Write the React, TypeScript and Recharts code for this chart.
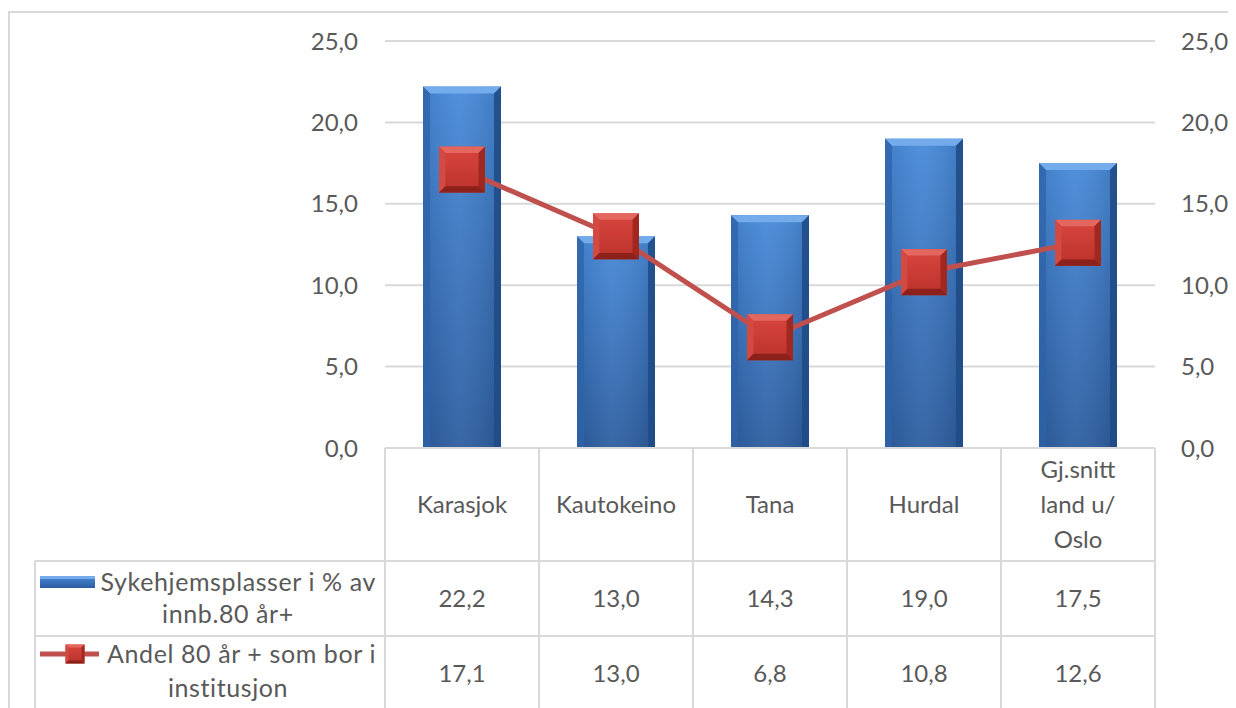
import { ComposedChart, Bar, Line, XAxis, YAxis, CartesianGrid } from "recharts";

const categories = ["Karasjok", "Kautokeino", "Tana", "Hurdal", "Gj.snitt land u/ Oslo"];
const sykehjemsplasser = [22.2, 13.0, 14.3, 19.0, 17.5];
const andelInstitusjon = [17.1, 13.0, 6.8, 10.8, 12.6];
const yTicks = [0, 5, 10, 15, 20, 25];
const barName = "Sykehjemsplasser i % av innb.80 år+";
const lineName = "Andel 80 år + som bor i institusjon";

const data = categories.map((name, i) => ({
  name,
  bar: sykehjemsplasser[i],
  line: andelInstitusjon[i],
}));

const FONT = "Lato, 'DejaVu Sans', sans-serif";
const TEXT = "#595959";
const GRID = "#d9d9d9";
const FS = 24;
const W = 1228;
const H = 700;
const HEADER_H = 113;
const ROW_H = 75;
const LEGEND_LEFT = 27;

const fmt = (v: number) => v.toFixed(1).replace(".", ",");

// simple word wrap by character count
function wrap(text: string, max: number) {
  const out: string[] = [];
  let cur = "";
  for (const w of text.split(" ")) {
    if (cur && (cur + " " + w).length > max) {
      out.push(cur);
      cur = w;
    } else cur = cur ? cur + " " + w : w;
  }
  if (cur) out.push(cur);
  return out;
}

function BevelBar(props: any) {
  const { x, y, width: w, height: h } = props;
  if (!h || h <= 0) return null;
  const b = 7;
  return (
    <g>
      <rect x={x} y={y} width={w} height={h} fill="url(#barFill)" />
      <rect x={x} y={y} width={w} height={h} fill="url(#barSide)" />
      <polygon points={`${x},${y} ${x + w},${y} ${x + w - b},${y + b} ${x + b},${y + b}`} fill="#74abeb" />
      <polygon points={`${x},${y} ${x + b},${y + b} ${x + b},${y + h} ${x},${y + h}`} fill="#2f63a8" opacity={0.75} />
      <polygon points={`${x + w},${y} ${x + w - b},${y + b} ${x + w - b},${y + h} ${x + w},${y + h}`} fill="#1f4a85" opacity={0.85} />
    </g>
  );
}

function Square({ cx, cy, s }: { cx: number; cy: number; s: number }) {
  const b = Math.max(3, s * 0.14);
  const x = cx - s / 2;
  const y = cy - s / 2;
  return (
    <g>
      <rect x={x} y={y} width={s} height={s} fill="url(#markFill)" />
      <polygon points={`${x},${y} ${x + s},${y} ${x + s - b},${y + b} ${x + b},${y + b}`} fill="#e4675f" />
      <polygon points={`${x},${y} ${x + b},${y + b} ${x + b},${y + s - b} ${x},${y + s}`} fill="#d24a42" />
      <polygon points={`${x + s},${y} ${x + s - b},${y + b} ${x + s - b},${y + s - b} ${x + s},${y + s}`} fill="#a0281f" />
      <polygon points={`${x},${y + s} ${x + b},${y + s - b} ${x + s - b},${y + s - b} ${x + s},${y + s}`} fill="#8c211b" />
    </g>
  );
}

function SquareDot(props: any) {
  const { cx, cy } = props;
  if (cx == null || cy == null) return null;
  return <Square cx={cx} cy={cy} s={46} />;
}

function TableTick(props: any) {
  const { x, y, payload, index, width, visibleTicksCount } = props;
  const band = width && visibleTicksCount ? width / visibleTicksCount : 154;
  const left = x - band / 2;
  const right = x + band / 2;
  const r1 = y + HEADER_H;
  const r2 = r1 + ROW_H;
  const bottom = y + 300;
  const lines = wrap(String(payload.value), 9);
  const lh = 35;
  const headMid = y + HEADER_H / 2;
  const txt = { fill: TEXT, fontSize: FS, fontFamily: FONT, textAnchor: "middle" as const };
  const legTxt = { fill: TEXT, fontSize: 25, fontFamily: FONT, letterSpacing: 0.6 };
  return (
    <g>
      <line x1={left} x2={left} y1={y} y2={bottom} stroke={GRID} strokeWidth={2} />
      <line x1={right} x2={right} y1={y} y2={bottom} stroke={GRID} strokeWidth={2} />
      <line x1={left} x2={right} y1={r1} y2={r1} stroke={GRID} strokeWidth={2} />
      <line x1={left} x2={right} y1={r2} y2={r2} stroke={GRID} strokeWidth={2} />
      {lines.map((l, i) => (
        <text key={i} x={x} y={headMid + (i - (lines.length - 1) / 2) * lh} dy="0.35em" {...txt}>
          {l}
        </text>
      ))}
      <text x={x} y={r1 + ROW_H / 2} dy="0.35em" {...txt}>
        {fmt(sykehjemsplasser[index])}
      </text>
      <text x={x} y={r2 + ROW_H / 2} dy="0.35em" {...txt}>
        {fmt(andelInstitusjon[index])}
      </text>
      {index === 0 && (
        <g>
          <line x1={LEGEND_LEFT} x2={left} y1={r1} y2={r1} stroke={GRID} strokeWidth={2} />
          <line x1={LEGEND_LEFT} x2={left} y1={r2} y2={r2} stroke={GRID} strokeWidth={2} />
          <line x1={LEGEND_LEFT} x2={LEGEND_LEFT} y1={r1} y2={bottom} stroke={GRID} strokeWidth={2} />
          {wrap(barName, 23).map((l, i) => (
            <text
              key={i}
              x={i === 0 ? left - 9 : (LEGEND_LEFT + left) / 2 + 18}
              y={r1 + 21 + i * 32}
              dy="0.35em"
              {...legTxt}
              textAnchor={i === 0 ? "end" : "middle"}
            >
              {l}
            </text>
          ))}
          <rect x={LEGEND_LEFT + 5} y={r1 + 15} width={55} height={12} fill="url(#barFill)" />
          <rect x={LEGEND_LEFT + 5} y={r1 + 15} width={55} height={3} fill="#74abeb" />
          {wrap(lineName, 23).map((l, i) => (
            <text
              key={i}
              x={i === 0 ? left - 9 : (LEGEND_LEFT + left) / 2 + 18}
              y={r2 + 18 + i * 34}
              dy="0.35em"
              {...legTxt}
              textAnchor={i === 0 ? "end" : "middle"}
            >
              {l}
            </text>
          ))}
          <line x1={LEGEND_LEFT + 5} x2={LEGEND_LEFT + 64} y1={r2 + 18} y2={r2 + 18} stroke="#c0504d" strokeWidth={5} />
          <Square cx={LEGEND_LEFT + 40} cy={r2 + 18} s={19} />
        </g>
      )}
    </g>
  );
}

export default function App() {
  return (
    <div style={{ position: "relative", width: W, height: H, overflow: "hidden", fontFamily: FONT }}>
      <style>{"html,body{overflow:hidden}"}</style>
      <div
        style={{
          position: "absolute",
          left: 0,
          top: 3,
          width: 1222,
          height: 800,
          border: `2px solid ${GRID}`,
        }}
      />
      <div style={{ position: "absolute", left: 0, top: 0 }}>
        <ComposedChart width={W} height={H} data={data} margin={{ top: 33, right: 21, bottom: 0, left: 317 }}>
          <defs>
            <linearGradient id="barFill" x1="0" y1="0" x2="0" y2="1">
              <stop offset="0%" stopColor="#4689d9" />
              <stop offset="100%" stopColor="#2c5da0" />
            </linearGradient>
            <linearGradient id="barSide" x1="0" y1="0" x2="1" y2="0">
              <stop offset="0%" stopColor="#000" stopOpacity={0.08} />
              <stop offset="45%" stopColor="#fff" stopOpacity={0.06} />
              <stop offset="100%" stopColor="#000" stopOpacity={0.12} />
            </linearGradient>
            <linearGradient id="markFill" x1="0" y1="0" x2="0" y2="1">
              <stop offset="0%" stopColor="#d8463e" />
              <stop offset="100%" stopColor="#bb322b" />
            </linearGradient>
          </defs>
          <CartesianGrid yAxisId="left" vertical={false} stroke={GRID} strokeWidth={2} />
          <XAxis
            dataKey="name"
            height={260}
            interval={0}
            tickSize={0}
            tickMargin={0}
            axisLine={{ stroke: GRID, strokeWidth: 2 }}
            tick={TableTick}
          />
          <YAxis
            yAxisId="left"
            width={60}
            domain={[0, 25]}
            ticks={yTicks}
            tickFormatter={fmt}
            axisLine={false}
            tickLine={false}
            tickSize={0}
            tickMargin={27}
            tick={{ fill: TEXT, fontSize: FS, fontFamily: FONT }}
          />
          <YAxis
            yAxisId="right"
            orientation="right"
            width={60}
            domain={[0, 25]}
            ticks={yTicks}
            tickFormatter={fmt}
            axisLine={false}
            tickLine={false}
            tickSize={0}
            tickMargin={26}
            tick={{ fill: TEXT, fontSize: FS, fontFamily: FONT, textAnchor: "start" }}
          />
          <Bar yAxisId="left" dataKey="bar" name={barName} barSize={78} shape={BevelBar} isAnimationActive={false} />
          <Line
            yAxisId="right"
            dataKey="line"
            name={lineName}
            stroke="#c0504d"
            strokeWidth={5}
            dot={SquareDot}
            activeDot={false}
            isAnimationActive={false}
          />
        </ComposedChart>
      </div>
    </div>
  );
}
